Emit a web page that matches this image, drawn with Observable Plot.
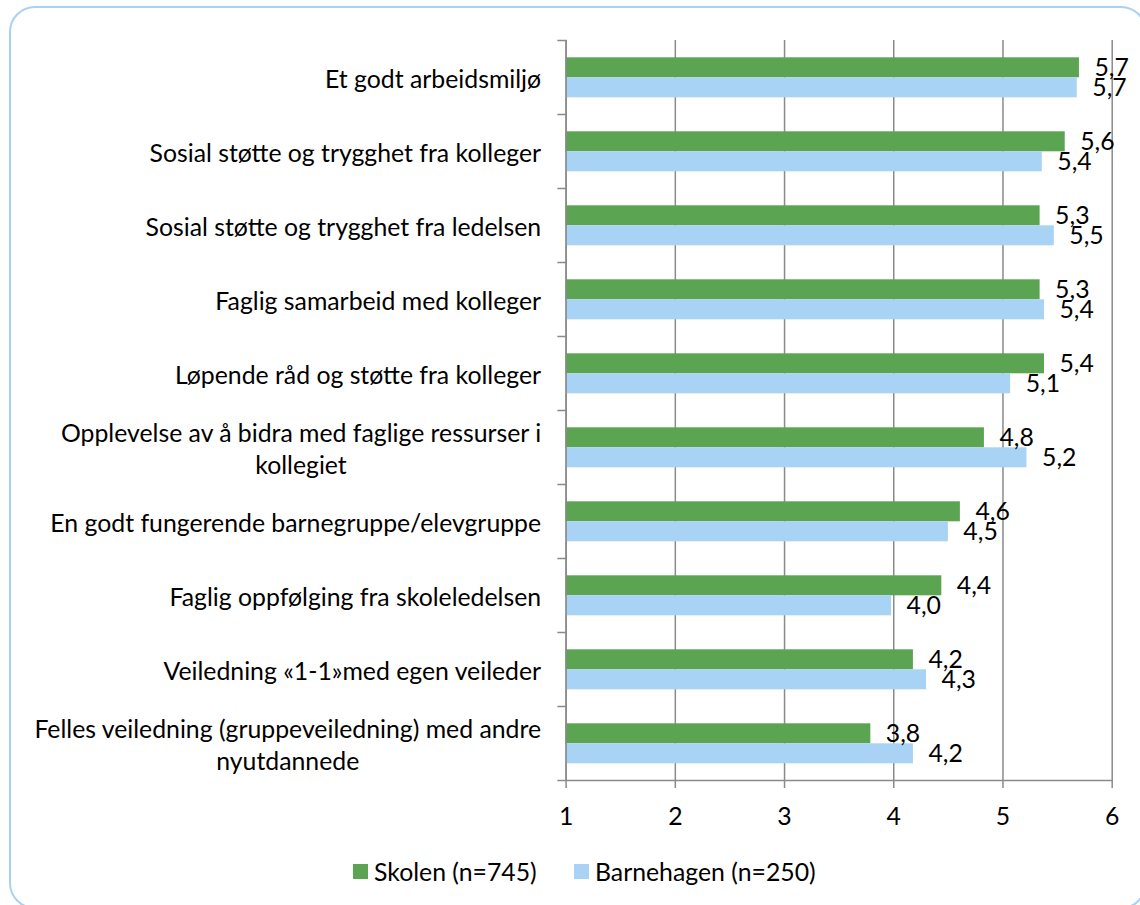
<!DOCTYPE html>
<html>
<head>
<meta charset="utf-8">
<script src="https://cdn.jsdelivr.net/npm/d3@7"></script>
<script src="https://cdn.jsdelivr.net/npm/@observablehq/plot@0.6"></script>
<style>
  html, body { margin: 0; padding: 0; overflow: hidden; background: #fff; width: 1140px; height: 905px; }
  #frame { position: absolute; left: 9px; top: 6px; width: 1138px; height: 903px; border: 2.5px solid #a8d1f3; border-radius: 26px; box-sizing: border-box; }
  #chart { position: absolute; left: 0; top: 0; }
  .legend-item { position: absolute; top: 857px; display: flex; align-items: center; font-family: Lato, sans-serif; font-size: 24.8px; color: #000; white-space: nowrap; }
  .swatch { display: inline-block; width: 15px; height: 15px; margin-right: 6px; }
</style>
</head>
<body>
<div id="frame"></div>
<div id="chart"></div>
<div id="legend"></div>
<script>
// ---- data ----
const categories = [
  "Et godt arbeidsmiljø",
  "Sosial støtte og trygghet fra kolleger",
  "Sosial støtte og trygghet fra ledelsen",
  "Faglig samarbeid med kolleger",
  "Løpende råd og støtte fra kolleger",
  "Opplevelse av å bidra med faglige ressurser i\nkollegiet",
  "En godt fungerende barnegruppe/elevgruppe",
  "Faglig oppfølging fra skoleledelsen",
  "Veiledning «1-1»med egen veileder",
  "Felles veiledning (gruppeveiledning) med andre\nnyutdannede"
];
const seriesNames = ["Skolen (n=745)", "Barnehagen (n=250)"];
const skolenValues     = [5.70, 5.57, 5.34, 5.34, 5.38, 4.83, 4.61, 4.44, 4.18, 3.79];
const barnehagenValues = [5.68, 5.36, 5.47, 5.38, 5.07, 5.22, 4.50, 3.98, 4.30, 4.18];
const xTicks = [1, 2, 3, 4, 5, 6];
const seriesColors = ["#5ba552", "#a9d3f5"];

const table = categories.flatMap((c, i) => [
  {category: c, series: seriesNames[0], value: skolenValues[i]},
  {category: c, series: seriesNames[1], value: barnehagenValues[i]}
]);

// ---- layout/style ----
const W = 1140, H = 845;
const mL = 565.6, mR = 28.3, mT = 38.7, mB = 64.3;
const gray = "#8a8a8a";
const font = "Lato, sans-serif";
const fs = 24.8;
const fmt = v => v.toFixed(1).replace(".", ",");

const chart = Plot.plot({
  width: W, height: H,
  marginLeft: mL, marginRight: mR, marginTop: mT, marginBottom: mB,
  style: {fontFamily: font, fontSize: fs + "px", color: "#000", background: "transparent", overflow: "visible"},
  x: {domain: [1, 6]},
  fy: {domain: categories, padding: 0, label: null},
  y: {domain: seriesNames, paddingInner: 0, paddingOuter: 0.78, axis: null},
  color: {domain: seriesNames, range: seriesColors},
  marks: [
    Plot.gridX(xTicks, {stroke: gray, strokeOpacity: 1, strokeWidth: 1.5}),
    Plot.barX(table, {fy: "category", y: "series", x1: 1, x2: "value", fill: "series"}),
    Plot.text(table, {fy: "category", y: "series", x: "value", text: d => fmt(d.value), textAnchor: "start", dx: 15, fill: "#000", fontSize: fs}),
    Plot.ruleX([1], {stroke: gray, strokeWidth: 1.5}),
    Plot.frame({anchor: "top", stroke: gray, strokeWidth: 1.5, insetLeft: -8, insetRight: W - mL - mR}),
    Plot.frame({anchor: "bottom", facet: "super", stroke: gray, strokeWidth: 1.5, insetLeft: -8}),
    Plot.axisX(xTicks, {tickSize: 8, tickPadding: 18.6, stroke: gray, strokeWidth: 1.5, fill: "#000", label: null, tickFormat: d => String(d), fontSize: fs}),
    Plot.axisFy({anchor: "left", tickSize: 0, tickPadding: 25, label: null, lineHeight: 1.31, fill: "#000", fontSize: fs})
  ]
});
document.getElementById("chart").appendChild(chart);

// center the lines of wrapped category labels within their block (right-aligned block)
chart.querySelectorAll("text").forEach(t => {
  const spans = t.querySelectorAll("tspan");
  if (spans.length > 1) {
    let maxW = 0;
    spans.forEach(s => { maxW = Math.max(maxW, s.getComputedTextLength()); });
    t.setAttribute("text-anchor", "middle");
    spans.forEach(s => s.setAttribute("x", -maxW / 2));
  }
});

// legend
const legend = document.getElementById("legend");
const legendLeft = [353, 574];
seriesNames.forEach((name, i) => {
  const item = document.createElement("div");
  item.className = "legend-item";
  item.style.left = legendLeft[i] + "px";
  const sw = document.createElement("span");
  sw.className = "swatch";
  sw.style.background = seriesColors[i];
  item.appendChild(sw);
  item.appendChild(document.createTextNode(name));
  legend.appendChild(item);
});
</script>
</body>
</html>
